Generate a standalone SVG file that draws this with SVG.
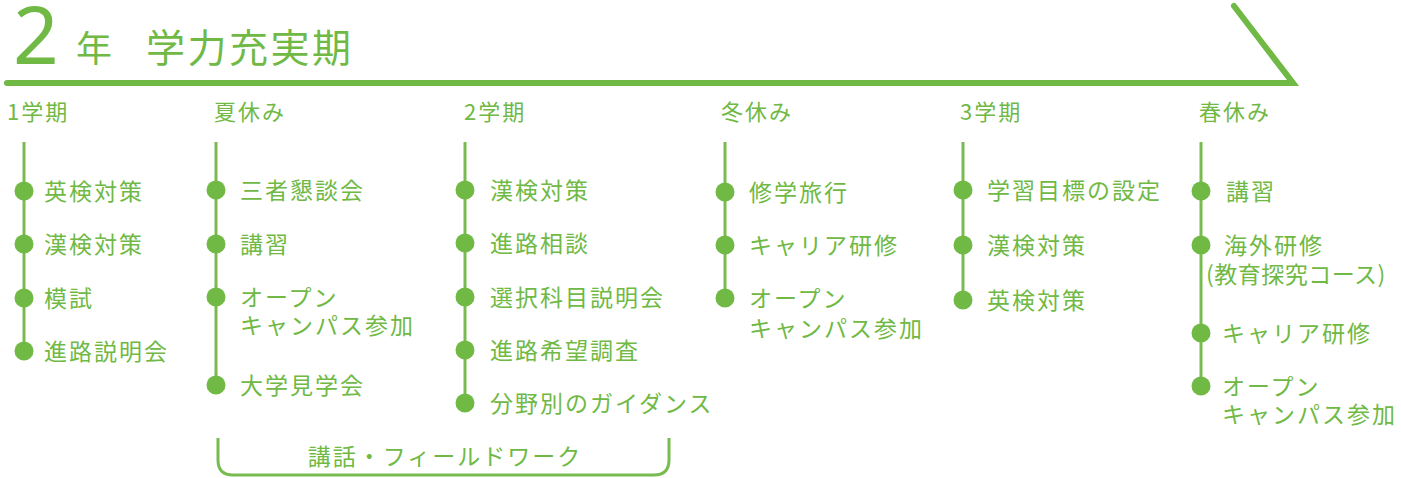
<svg xmlns="http://www.w3.org/2000/svg" width="1401" height="478" viewBox="0 0 1401 478">
<style>
text{font-family:"Noto Sans CJK JP","Noto Sans",sans-serif;fill:#6fb944}
.t{font-size:23px;letter-spacing:2px}
.h{font-size:22px;letter-spacing:2px}
.ln{stroke:#78bb50;stroke-width:3;fill:none}
.d{fill:#6fb944}
</style>
<rect width="1401" height="478" fill="#fff"/>
<g id="title">
<text x="13" y="64" style="font-size:80px;font-family:'Noto Sans','DejaVu Sans',sans-serif">2</text>
<text x="76" y="62" style="font-size:36px">年</text>
<text x="146" y="62" style="font-size:39px;letter-spacing:2.5px">学力充実期</text>
</g>
<g id="arrow">
<path d="M7 83 H1293 L1234 6" fill="none" stroke="#6fb944" stroke-width="6" stroke-linejoin="miter" stroke-linecap="round"/>
</g>
<g id="connectors">
<line class="ln" x1="24" y1="142" x2="24" y2="351"/>
<line class="ln" x1="216" y1="142" x2="216" y2="385"/>
<line class="ln" x1="465" y1="142" x2="465" y2="403"/>
<line class="ln" x1="725" y1="142" x2="725" y2="298"/>
<line class="ln" x1="963" y1="142" x2="963" y2="300"/>
<line class="ln" x1="1201" y1="142" x2="1201" y2="386"/>
<path class="ln" d="M218 438 V460 Q218 475 233 475 H654 Q669 475 669 460 V438"/>
</g>
<g id="col1">
<text class="h" x="7" y="120">1学期</text>
<circle class="d" cx="24" cy="191" r="9.5"/><text class="t" x="44" y="200">英検対策</text>
<circle class="d" cx="24" cy="244" r="9.5"/><text class="t" x="44" y="253">漢検対策</text>
<circle class="d" cx="24" cy="298" r="9.5"/><text class="t" x="44" y="307">模試</text>
<circle class="d" cx="24" cy="351" r="9.5"/><text class="t" x="44" y="360">進路説明会</text>
</g>
<g id="col2">
<text class="h" x="214" y="120">夏休み</text>
<circle class="d" cx="216" cy="190" r="9.5"/><text class="t" x="240" y="199">三者懇談会</text>
<circle class="d" cx="216" cy="244" r="9.5"/><text class="t" x="240" y="253">講習</text>
<circle class="d" cx="216" cy="297" r="9.5"/><text class="t" x="240" y="306">オープン</text>
<text class="t" x="240" y="334">キャンパス参加</text>
<circle class="d" cx="216" cy="385" r="9.5"/><text class="t" x="240" y="394">大学見学会</text>
</g>
<g id="col3">
<text class="h" x="464" y="120">2学期</text>
<circle class="d" cx="465" cy="190" r="9.5"/><text class="t" x="490" y="199">漢検対策</text>
<circle class="d" cx="465" cy="243" r="9.5"/><text class="t" x="490" y="252">進路相談</text>
<circle class="d" cx="465" cy="297" r="9.5"/><text class="t" x="490" y="306">選択科目説明会</text>
<circle class="d" cx="465" cy="350" r="9.5"/><text class="t" x="490" y="359">進路希望調査</text>
<circle class="d" cx="465" cy="403" r="9.5"/><text class="t" x="490" y="412">分野別のガイダンス</text>
</g>
<g id="col4">
<text class="h" x="721" y="120">冬休み</text>
<circle class="d" cx="725" cy="192" r="9.5"/><text class="t" x="749" y="201">修学旅行</text>
<circle class="d" cx="725" cy="245" r="9.5"/><text class="t" x="749" y="254">キャリア研修</text>
<circle class="d" cx="725" cy="298" r="9.5"/><text class="t" x="749" y="307">オープン</text>
<text class="t" x="749" y="337">キャンパス参加</text>
</g>
<g id="col5">
<text class="h" x="960" y="120">3学期</text>
<circle class="d" cx="963" cy="190" r="9.5"/><text class="t" x="987" y="199">学習目標の設定</text>
<circle class="d" cx="963" cy="245" r="9.5"/><text class="t" x="987" y="254">漢検対策</text>
<circle class="d" cx="963" cy="300" r="9.5"/><text class="t" x="987" y="309">英検対策</text>
</g>
<g id="col6">
<text class="h" x="1199" y="120">春休み</text>
<circle class="d" cx="1201" cy="191" r="9.5"/><text class="t" x="1226" y="200">講習</text>
<circle class="d" cx="1201" cy="245" r="9.5"/><text class="t" x="1224" y="254">海外研修</text>
<text class="t" x="1206" y="283" style="letter-spacing:0.5px">(教育探究コース)</text>
<circle class="d" cx="1201" cy="333" r="9.5"/><text class="t" x="1222" y="342">キャリア研修</text>
<circle class="d" cx="1201" cy="386" r="9.5"/><text class="t" x="1222" y="395">オープン</text>
<text class="t" x="1222" y="423">キャンパス参加</text>
</g>
<g id="bracket-label">
<text class="t" x="445" y="465" text-anchor="middle">講話・フィールドワーク</text>
</g>
</svg>
